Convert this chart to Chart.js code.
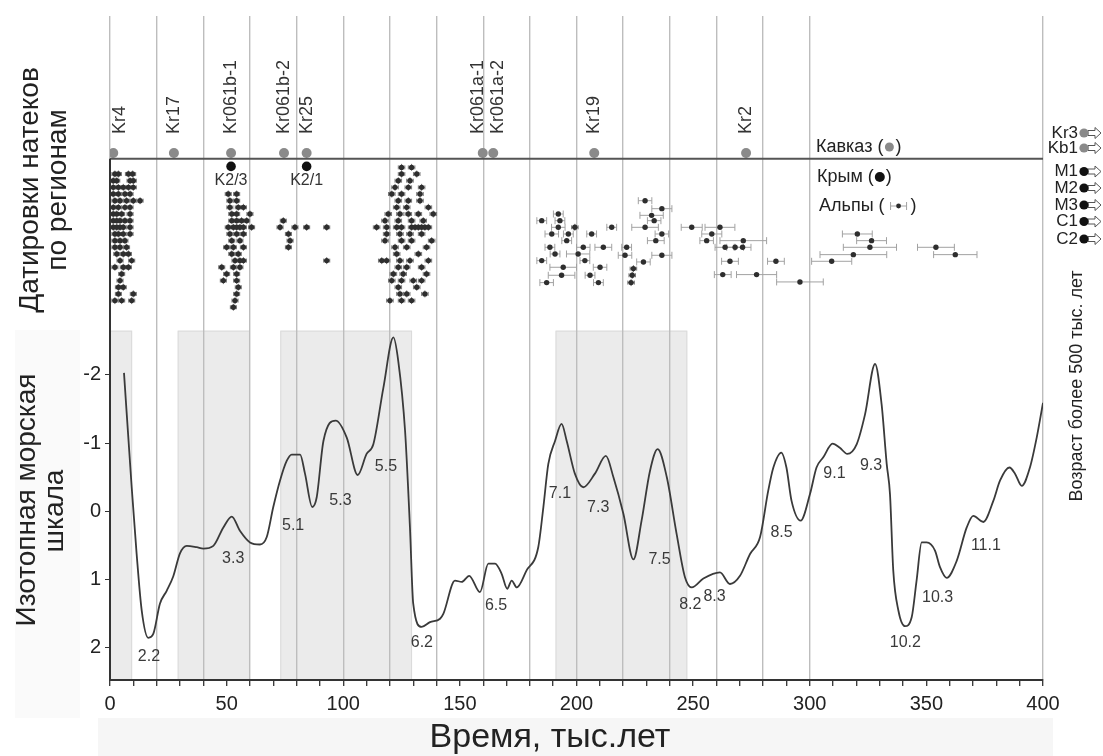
<!DOCTYPE html>
<html>
<head>
    <meta charset="utf-8">
    <title>Датировки натеков и изотопная шкала</title>
    <script src="https://cdn.jsdelivr.net/npm/chart.js@4"></script>
    <style>
        body { margin: 0; background: #fff; }
        #wrap { width: 1103px; height: 756px; }
    </style>
</head>
<body>
<div id="wrap"><canvas id="myChart" width="1103" height="756"></canvas></div>
<script>
// --- isotope (MIS) curve, ka vs value (inverted axis)
var isoAge = [6.0, 9.3, 11.4, 13.6, 16.4, 18.6, 21.4, 24.3, 27.1, 30.0,
    32.9, 37.2, 40.0, 44.3, 48.6, 52.2, 55.7, 60.0, 64.3, 67.2,
    70.0, 72.9, 75.8, 77.9, 81.5, 83.6, 86.7, 88.6, 91.5, 96.8,
    101.5, 106.2, 110.0, 112.9, 117.2, 121.5, 123.6, 126.5, 128.6, 130.0,
    133.6, 137.2, 141.5, 142.9, 147.9, 150.8, 154.0, 158.6, 162.2, 165.1,
    167.9, 170.3, 172.2, 174.4, 178.6, 183.6, 185.8, 187.9, 190.8, 193.6,
    195.8, 199.3, 202.9, 207.9, 212.6, 215.8, 220.1, 224.4, 227.9, 231.5,
    234.8, 238.7, 242.9, 246.5, 249.4, 254.4, 261.5, 265.8, 270.1, 274.4,
    278.7, 282.2, 284.4, 287.8, 290.0, 292.2, 296.1, 300.1, 302.9, 305.8,
    309.8, 312.9, 316.1, 320.1, 323.7, 328.0, 330.8, 333.0, 334.4, 335.8,
    338.0, 340.8, 343.7, 345.8, 348.0, 350.1, 353.7, 355.8, 358.7, 363.0,
    367.3, 370.1, 374.4, 378.7, 381.6, 385.6, 388.0, 390.9, 394.4, 397.3,
    400];
var isoVal = [-2.03, -0.35, 0.62, 1.46, 1.86, 1.80, 1.36, 1.17, 0.96, 0.62,
    0.51, 0.53, 0.55, 0.51, 0.24, 0.08, 0.29, 0.46, 0.49, 0.38,
    -0.06, -0.45, -0.74, -0.83, -0.83, -0.55, -0.06, -0.20, -1.03, -1.33,
    -1.08, -0.53, -0.84, -0.98, -1.81, -2.55, -2.20, -1.18, 0.24, 1.36,
    1.70, 1.63, 1.58, 1.51, 1.02, 1.04, 0.95, 1.19, 0.77, 0.77,
    0.92, 1.14, 1.02, 1.12, 0.87, 0.53, -0.06, -0.69, -1.03, -1.28,
    -1.03, -0.55, -0.35, -0.55, -0.81, -0.50, 0.04, 0.71, 0.14, -0.59,
    -0.91, -0.50, 0.33, 0.97, 1.12, 0.99, 0.90, 1.07, 0.95, 0.63,
    0.38, -0.30, -0.64, -0.86, -0.64, -0.15, 0.14, -0.25, -0.64, -0.79,
    -0.99, -0.93, -0.84, -0.98, -1.42, -2.16, -1.57, -0.69, -0.25, 0.87,
    1.46, 1.69, 1.56, 1.02, 0.46, 0.46, 0.58, 0.82, 0.98, 0.73,
    0.24, 0.07, 0.16, -0.15, -0.45, -0.64, -0.55, -0.37, -0.64, -1.08,
    -1.59];

// stage labels on the curve
var misLabels = ['2.2', '3.3', '5.1', '5.3', '5.5', '6.2', '6.5', '7.1', '7.3',
    '7.5', '8.2', '8.3', '8.5', '9.1', '9.3', '10.2', '10.3', '11.1'];
var misAge = [16.7, 52.8, 78.5, 98.8, 118.3, 133.7, 165.5, 192.9, 209.3,
    235.6, 248.8, 259.2, 287.9, 310.6, 326.3, 341.0, 354.8, 375.5];
var misVal = [2.13, 0.69, 0.22, -0.15, -0.66, 1.93, 1.39, -0.25, -0.05,
    0.71, 1.38, 1.26, 0.31, -0.55, -0.67, 1.93, 1.27, 0.50];

// shaded intervals
var shadeFrom = [0, 29, 73, 191];
var shadeTo = [9.5, 60, 129.5, 247.5];

// dated samples (top panel)
var cavSamples = ['Kr4', 'Kr17', 'Kr061b-1', 'Kr061b-2', 'Kr25', 'Kr061a-1', 'Kr061a-2', 'Kr19', 'Kr2'];
var cavAge = [1.4, 27.4, 51.9, 74.6, 84.3, 159.8, 164.3, 207.6, 272.7];
var crimeaSamples = ['K2/3', 'K2/1'];
var crimeaAge = [51.9, 84.3];
var oldCav = ['Kr3', 'Kb1'];
var oldCrimea = ['M1', 'M2', 'M3', 'C1', 'C2'];

// dense dating clusters, one list of ages per row
var kr4Rows = [[2.1, 3.6, 7.9, 9.7], [1.4, 2.9, 8.6, 10.0], [1.4, 3.6, 5.7, 7.9, 10.0], [1.4, 3.6, 6.4, 8.6],
    [2.1, 4.3, 7.1, 10.0, 12.9], [1.4, 3.6, 6.4, 8.6], [1.4, 2.9, 5.0, 8.6], [1.4, 2.9, 4.3, 6.4, 8.6],
    [1.4, 2.9, 4.3, 5.7, 8.6], [2.1, 3.6, 5.7, 8.6], [2.1, 4.3, 6.4], [2.1, 4.3, 7.1], [2.9, 5.7, 7.9],
    [4.3, 9.3], [2.1, 5.7, 7.9], [5.0], [4.3], [3.6, 5.7], [3.6, 10.0], [2.1, 5.0, 9.3]];
var k23Rows = [[50.7, 54.3], [51.4, 54.3], [51.4, 55.0, 57.2], [52.2, 54.3, 60.0], [52.2, 54.3, 56.4, 58.6],
    [50.7, 52.9, 54.3, 55.7, 57.2, 60.7], [51.4, 54.3, 57.2], [52.2, 55.7], [50.0, 52.9, 57.2],
    [52.2, 55.0], [53.6, 55.7, 57.2], [47.9, 52.9, 55.7], [50.0, 54.3], [48.6, 54.3], [55.0], [54.3],
    [53.6], [52.9]];
var k21Rows = [[74.3], [72.9, 79.3, 84.3, 92.9], [76.5], [77.2], [76.5], [], [92.9]];
var mis5Rows = [[125.0, 129.3], [125.0, 131.5], [123.6, 128.6], [122.2, 127.9, 133.6], [120.8, 125.0, 132.9],
    [123.6, 127.9, 132.9], [122.9, 127.2, 136.5], [119.3, 124.3, 127.9, 132.2, 138.6],
    [117.9, 123.6, 129.3, 134.3], [114.3, 118.6, 122.9, 125.0, 129.3, 130.8, 132.2, 133.6, 135.0, 136.5],
    [118.6, 124.3, 128.6, 133.6], [117.9, 125.0, 129.3, 137.9], [122.2, 127.2, 135.7], [122.9, 132.2],
    [116.5, 118.6, 124.3, 128.6, 136.5], [123.6, 127.2, 133.6], [121.5, 125.7, 135.7],
    [120.8, 125.0, 130.0, 133.6], [123.6, 131.5], [124.3, 127.2, 135.0], [120.0, 125.0, 129.3]];

// Alps dates with errors
var alpsAge = [185.1, 192.2, 192.9, 192.2, 199.3, 189.4, 196.5, 195.8, 206.5, 215.1,
    188.6, 190.8, 202.9, 211.5, 200.7, 185.1, 203.6, 194.3, 210.1, 193.6,
    205.8, 187.2, 209.4, 221.5, 220.8, 224.4, 223.9, 223.4, 229.4, 236.6,
    232.2, 233.3, 229.4, 236.6, 234.0, 236.6, 228.7, 249.4, 261.5, 258.0,
    255.8, 271.5, 263.7, 268.0, 271.2, 265.8, 285.5, 262.7, 277.2, 295.8,
    309.4, 318.7, 320.4, 326.5, 325.8, 354.1, 362.4];
var alpsRow = [7, 6, 7, 8, 8, 9, 9, 10, 9, 8,
    11, 12, 11, 11, 12, 13, 13, 14, 14, 15.2,
    15.2, 16.3, 16.3, 11, 12.2, 14.2, 15.2, 16.3, 4, 5.2,
    6.2, 7, 8, 9, 10, 12.2, 13.2, 8, 8, 9,
    10, 10, 11, 11, 11, 13.1, 13.1, 15.1, 15.1, 16.2,
    13.1, 12.1, 9, 10, 11, 11, 12.1];
var alpsErr = [2.1, 2.1, 2.1, 2.9, 1.4, 2.9, 2.1, 2.1, 2.1, 2.1,
    2.1, 2.1, 2.9, 3.6, 5.0, 2.1, 2.1, 5.7, 2.9, 5.7,
    2.1, 2.9, 2.1, 2.1, 2.9, 1.4, 1.4, 1.4, 2.9, 4.3,
    5.0, 2.9, 5.7, 2.9, 3.6, 4.3, 2.9, 4.5, 6.4, 4.3,
    2.9, 10.0, 4.3, 3.6, 3.6, 3.6, 3.6, 3.6, 8.6, 10.0,
    8.6, 14.3, 6.4, 6.4, 11.4, 7.9, 9.3];

// row positions in the top panel
var SEP_ROW = -2.3, CAV_ROW = -3.15, CRIM_ROW = -1.15, LABEL_ROW = -6.0;
var SHADE_TOP = -2.65;
var FONT = "'Liberation Sans', Arial, sans-serif";

var datePts = [];
function addRows(rows, start, err) {
    rows.forEach(function (ages, i) {
        ages.forEach(function (a) { datePts.push({ x: a, y: start + i, e: err }); });
    });
}
addRows(kr4Rows, 0, 1.3);
addRows(k23Rows, 3, 1.3);
addRows(k21Rows, 7, 1.3);
addRows(mis5Rows, -1, 1.4);
alpsAge.forEach(function (a, i) { datePts.push({ x: a, y: alpsRow[i], e: alpsErr[i] }); });

function rotText(c, txt, x, y, align) {
    c.save();
    c.translate(x, y);
    c.rotate(-Math.PI / 2);
    c.textAlign = align;
    c.textBaseline = 'middle';
    c.fillText(txt, 0, 0);
    c.restore();
}

function dot(c, x, y, r, col) {
    c.beginPath();
    c.arc(x, y, r, 0, Math.PI * 2);
    c.fillStyle = col;
    c.fill();
}

function arrow(c, x, y) {
    c.beginPath();
    c.moveTo(x, y - 2.5); c.lineTo(x + 7, y - 2.5); c.lineTo(x + 7, y - 5.5);
    c.lineTo(x + 13, y); c.lineTo(x + 7, y + 5.5); c.lineTo(x + 7, y + 2.5);
    c.lineTo(x, y + 2.5); c.closePath();
    c.fillStyle = '#fff'; c.fill();
    c.strokeStyle = '#555'; c.lineWidth = 1; c.stroke();
}

var decor = {
    id: 'decor',
    beforeDraw: function (chart) {
        var c = chart.ctx, xs = chart.scales.x, ys = chart.scales.y, a = chart.chartArea;
        c.save();
        c.fillStyle = '#f6f6f6';
        c.fillRect(98, 718, 955, 38);
        c.fillStyle = '#fafafa';
        c.fillRect(15, 330, 65, 388);
        var top = ys.getPixelForValue(SHADE_TOP);
        for (var i = 0; i < shadeFrom.length; i++) {
            var x0 = xs.getPixelForValue(shadeFrom[i]), x1 = xs.getPixelForValue(shadeTo[i]);
            c.fillStyle = '#ebebeb';
            c.fillRect(x0, top, x1 - x0, a.bottom - top);
            c.strokeStyle = '#dadada';
            c.lineWidth = 1;
            c.strokeRect(x0 + 0.5, top + 0.5, x1 - x0 - 1, a.bottom - top - 1);
        }
        c.restore();
    },
    beforeDatasetsDraw: function (chart) {
        var c = chart.ctx, xs = chart.scales.x, ys = chart.scales.yd;
        c.save();
        c.lineWidth = 1;
        datePts.forEach(function (p) {
            var x0 = xs.getPixelForValue(p.x - p.e), x1 = xs.getPixelForValue(p.x + p.e);
            var yy = ys.getPixelForValue(p.y);
            var small = p.e < 1.5;
            var cap = small ? 2 : 3.5;
            c.strokeStyle = small ? '#777' : '#a2a2a2';
            c.beginPath();
            c.moveTo(x0, yy); c.lineTo(x1, yy);
            c.moveTo(x0, yy - cap); c.lineTo(x0, yy + cap);
            c.moveTo(x1, yy - cap); c.lineTo(x1, yy + cap);
            if (small) {
                var xm = xs.getPixelForValue(p.x);
                c.moveTo(xm, yy - 3.5); c.lineTo(xm, yy + 3.5);
            }
            c.stroke();
        });
        c.restore();
    },
    afterDraw: function (chart) {
        var c = chart.ctx, xs = chart.scales.x, ys = chart.scales.y, yd = chart.scales.yd, a = chart.chartArea;
        c.save();
        // panel separator and left axis
        var sy = yd.getPixelForValue(SEP_ROW);
        c.strokeStyle = '#555'; c.lineWidth = 2;
        c.beginPath(); c.moveTo(a.left, sy); c.lineTo(a.right, sy); c.stroke();
        c.strokeStyle = '#333';
        c.beginPath(); c.moveTo(a.left, sy); c.lineTo(a.left, a.bottom); c.stroke();

        c.fillStyle = '#333';
        // sample names, rotated
        var lx = cavAge.map(function (v) { return Math.max(xs.getPixelForValue(v), a.left + 10); });
        for (var i = 1; i < lx.length; i++) {
            if (lx[i] - lx[i - 1] < 20) {
                var m = (lx[i] + lx[i - 1]) / 2;
                lx[i - 1] = m - 10; lx[i] = m + 10;
            }
        }
        c.font = '18px ' + FONT;
        var ly = yd.getPixelForValue(LABEL_ROW);
        cavSamples.forEach(function (s, i) { rotText(c, s, lx[i], ly, 'left'); });

        // Crimea labels
        c.font = '16px ' + FONT;
        c.textAlign = 'center'; c.textBaseline = 'middle';
        crimeaSamples.forEach(function (s, i) {
            c.fillText(s, xs.getPixelForValue(crimeaAge[i]), yd.getPixelForValue(1.0));
        });

        // MIS stage labels
        c.font = '16px ' + FONT;
        c.fillStyle = '#3a3a3a';
        misLabels.forEach(function (s, i) {
            c.fillText(s, xs.getPixelForValue(misAge[i]), ys.getPixelForValue(misVal[i]));
        });

        // legend
        c.font = '18px ' + FONT;
        c.textAlign = 'left';
        var lgX = 816, w;
        c.fillStyle = '#222';
        c.fillText('Кавказ (', lgX, 147);
        w = c.measureText('Кавказ (').width;
        dot(c, lgX + w + 6, 147, 4.5, '#8a8a8a');
        c.fillStyle = '#222';
        c.fillText(')', lgX + w + 12, 147);
        c.fillText('Крым (', lgX + 1, 177);
        w = c.measureText('Крым (').width;
        dot(c, lgX + 1 + w + 6, 177, 5, '#111');
        c.fillStyle = '#222';
        c.fillText(')', lgX + 1 + w + 12, 177);
        c.fillText('Альпы (', lgX + 3, 206);
        w = c.measureText('Альпы (').width;
        var sx = lgX + 3 + w + 14;
        c.strokeStyle = '#a2a2a2'; c.lineWidth = 1;
        c.beginPath();
        c.moveTo(sx - 8, 206); c.lineTo(sx + 8, 206);
        c.moveTo(sx - 8, 202); c.lineTo(sx - 8, 210);
        c.moveTo(sx + 8, 202); c.lineTo(sx + 8, 210);
        c.stroke();
        dot(c, sx, 206, 2.4, '#2b2b2b');
        c.fillStyle = '#222';
        c.fillText(')', sx + 12, 206);

        // samples older than 500 ka
        var rY = [133, 148, 171.5, 188, 205, 221.5, 239];
        var rNames = oldCav.concat(oldCrimea);
        c.font = '17px ' + FONT;
        rNames.forEach(function (s, i) {
            c.fillStyle = '#222';
            c.textAlign = 'right';
            c.fillText(s, 1078, rY[i]);
            arrow(c, 1088, rY[i]);
            dot(c, 1084, rY[i], 4.6, i < oldCav.length ? '#8a8a8a' : '#111');
        });
        c.fillStyle = '#222';
        c.font = '18px ' + FONT;
        rotText(c, 'Возраст более 500 тыс. лет', 1077, 386, 'center');

        // axis titles
        c.font = '28px ' + FONT;
        rotText(c, 'Датировки натеков', 30, 190, 'center');
        rotText(c, 'по регионам', 58, 190, 'center');
        rotText(c, 'Изотопная морская', 27, 500, 'center');
        rotText(c, 'шкала', 55, 511, 'center');
        c.font = '34px ' + FONT;
        c.textAlign = 'center';
        c.fillText('Время, тыс.лет', 550, 738);
        c.restore();
    }
};

var ctx = document.getElementById('myChart').getContext('2d');
var myChart = new Chart(ctx, {
    type: 'line',
    data: {
        datasets: [{
            label: 'Изотопная шкала',
            data: isoAge.map(function (v, i) { return { x: v, y: isoVal[i] }; }),
            yAxisID: 'y',
            borderColor: '#3a3a3a',
            borderWidth: 1.8,
            pointRadius: 0,
            cubicInterpolationMode: 'monotone',
            fill: false
        }, {
            label: 'Датировки',
            data: datePts.map(function (p) { return { x: p.x, y: p.y }; }),
            yAxisID: 'yd',
            showLine: false,
            pointRadius: 2.7,
            pointBorderWidth: 0,
            pointBackgroundColor: '#2e2e2e'
        }, {
            label: 'Кавказ',
            data: cavAge.map(function (v) { return { x: v, y: CAV_ROW }; }),
            yAxisID: 'yd',
            showLine: false,
            pointRadius: 5,
            pointBorderWidth: 0,
            pointBackgroundColor: '#8a8a8a'
        }, {
            label: 'Крым',
            data: crimeaAge.map(function (v) { return { x: v, y: CRIM_ROW }; }),
            yAxisID: 'yd',
            showLine: false,
            pointRadius: 4.8,
            pointBorderWidth: 0,
            pointBackgroundColor: '#111'
        }]
    },
    options: {
        responsive: false,
        animation: false,
        layout: { padding: { top: 15, right: 60, left: 0, bottom: 0 } },
        plugins: { legend: { display: false }, tooltip: { enabled: false } },
        scales: {
            x: {
                type: 'linear',
                min: 0, max: 400,
                afterFit: function (s) { s.height = 76; },
                ticks: {
                    stepSize: 10, autoSkip: false, maxRotation: 0, padding: 6,
                    color: '#222', font: { size: 20, family: FONT },
                    callback: function (v) { return v % 50 === 0 ? v : ''; }
                },
                grid: {
                    color: function (g) {
                        var v = g.tick ? g.tick.value : -1;
                        return ((v % 20 === 0 && v <= 300) || v === 400) ? '#bdbdbd' : 'rgba(0,0,0,0)';
                    },
                    lineWidth: 1.4,
                    tickColor: '#333',
                    tickLength: 6,
                    tickWidth: 1.3
                },
                border: { display: true, color: '#333', width: 2 }
            },
            y: {
                type: 'linear',
                position: 'left',
                reverse: true,
                min: -7.27, max: 2.48,
                afterFit: function (s) { s.width = 110; },
                afterBuildTicks: function (s) {
                    s.ticks = [-2, -1, 0, 1, 2].map(function (v) { return { value: v }; });
                },
                ticks: { padding: 4, color: '#222', font: { size: 20, family: FONT } },
                grid: { drawOnChartArea: false, color: '#333', tickLength: 5 },
                border: { display: false }
            },
            yd: {
                type: 'linear',
                display: false,
                reverse: true,
                min: -23.73, max: 75.97
            }
        }
    },
    plugins: [decor]
});
</script>
</body>
</html>
